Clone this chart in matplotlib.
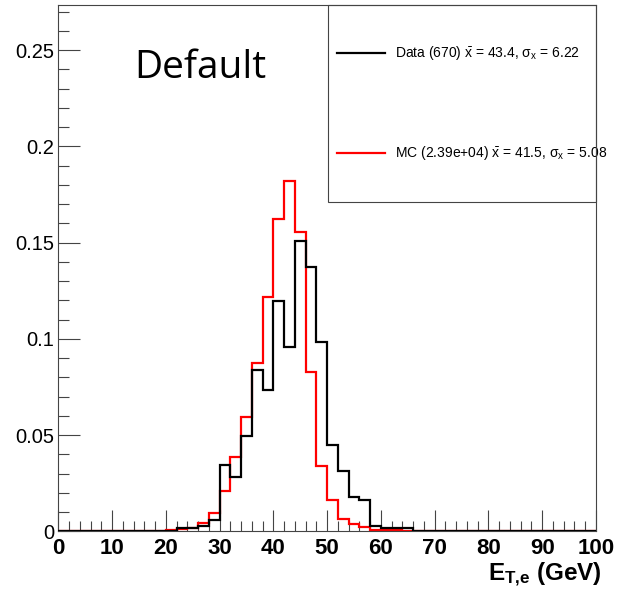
import numpy as np
import matplotlib
matplotlib.use("Agg")
import matplotlib.pyplot as plt
from matplotlib.lines import Line2D
from matplotlib.patches import Rectangle

plt.rcParams['mathtext.fontset'] = 'custom'
plt.rcParams['mathtext.rm'] = 'Liberation Sans'
plt.rcParams['mathtext.it'] = 'Liberation Sans'
plt.rcParams['mathtext.bf'] = 'Liberation Sans:bold'
plt.rcParams['mathtext.sf'] = 'Liberation Sans'

# ---- data ----
bin_lo, bin_hi, bin_w = 0, 100, 2
data_counts = [0]*11 + [1, 1, 2, 4, 23, 19, 33, 56, 49, 80, 64, 101, 92, 66, 30, 21,
                        12, 11, 2, 1, 1, 1] + [0]*17
data_total = 670
mc_values = [0]*10 + [0.0005, 0.0010, 0.0017, 0.0043, 0.0095, 0.0208, 0.0385, 0.0594,
                      0.0872, 0.1219, 0.1622, 0.1819, 0.1554, 0.0825, 0.0337, 0.0160,
                      0.0066, 0.0038, 0.0021, 0.0009, 0.0005, 0.0004, 0.0003] + [0]*17
legend_labels = [r"Data (670) $\bar{\mathrm{x}}$ = 43.4, $\sigma_{\mathrm{x}}$ = 6.22",
                 r"MC (2.39e+04) $\bar{\mathrm{x}}$ = 41.5, $\sigma_{\mathrm{x}}$ = 5.08"]
x_ticks = [0, 10, 20, 30, 40, 50, 60, 70, 80, 90, 100]
y_ticks = [0, 0.05, 0.1, 0.15, 0.2, 0.25]
y_tick_labels = ["0", "0.05", "0.1", "0.15", "0.2", "0.25"]

edges = np.arange(bin_lo, bin_hi + bin_w, bin_w)
data_vals = np.array(data_counts) / data_total
mc_vals = np.array(mc_values)

W, H = 620, 597
fig = plt.figure(figsize=(W/100, H/100), dpi=100)
ax = fig.add_axes([58.3/W, 1 - 531.25/H, (596 - 58.3)/W, (531.25 - 5)/H])

ax.stairs(mc_vals, edges, color='#ff0000', lw=1.6, baseline=None, zorder=2)
ax.stairs(data_vals, edges, color='black', lw=1.6, baseline=None, zorder=3)

ax.set_xlim(0, 100)
ax.set_ylim(0, 0.2734)

frame_c = '#444444'
for s in ax.spines.values():
    s.set_color(frame_c)
    s.set_linewidth(0.8)

ax.set_xticks(x_ticks)
ax.set_xticks(np.arange(0, 101, 2), minor=True)
ax.set_yticks(y_ticks)
ax.set_yticks(np.arange(0, 0.2701, 0.01), minor=True)
ax.set_yticklabels(y_tick_labels)
ax.set_xticklabels([str(t) for t in x_ticks])

ax.tick_params(axis='x', which='major', direction='in', length=15, width=0.8, color=frame_c,
               pad=5, labelsize=16)
ax.tick_params(axis='x', which='minor', direction='in', length=7, width=0.8, color=frame_c)
ax.tick_params(axis='y', which='major', direction='in', length=16, width=0.8, color=frame_c,
               pad=3, labelsize=14.5)
ax.tick_params(axis='y', which='minor', direction='in', length=8, width=0.8, color=frame_c)
for lab in ax.get_xticklabels():
    lab.set_fontfamily('Liberation Sans')
    lab.set_fontweight('bold')
for lab in ax.get_yticklabels():
    lab.set_fontfamily('Liberation Sans')

# x label
fig.text(602/W, 1 - 581/H, r"$\mathbf{E}_{\mathbf{T{,}e}}$ (GeV)", ha='right', va='baseline',
         fontsize=17.5, fontweight='bold', family='Liberation Sans')

# Default text
fig.text(134/W, 1 - 78/H, "Default", ha='left', va='baseline', fontsize=28,
         family='Open Sans')

# legend box
fig.patches.append(Rectangle((328/W, 1 - 202/H), (596 - 328)/W, (202 - 5)/H,
                             transform=fig.transFigure, fill=False, edgecolor=frame_c,
                             lw=0.8, zorder=5))
for i, (lab, col) in enumerate(zip(legend_labels, ['black', '#ff0000'])):
    yy = 1 - (53 + 100*i)/H
    fig.lines.append(Line2D([337/W, 385/W], [yy, yy], transform=fig.transFigure,
                            color=col, lw=1.6))
    fig.text(395/W, yy, lab, ha='left', va='center', fontsize=10, family='Liberation Sans')

fig.savefig("out.png", dpi=100)
